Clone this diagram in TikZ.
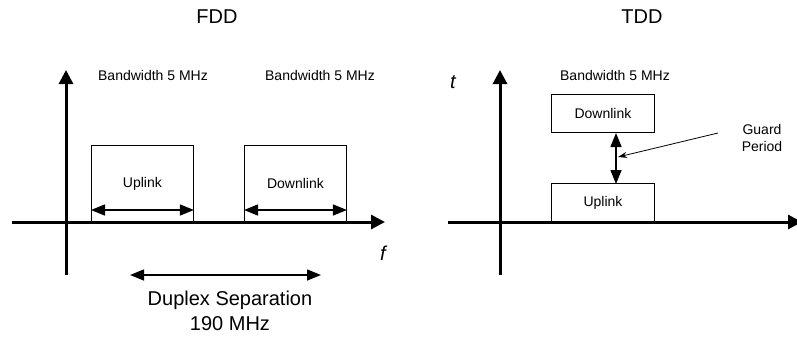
\documentclass[tikz,border=0pt]{standalone}
\usepackage{fontspec}
\setmainfont{Liberation Sans}
\usetikzlibrary{arrows.meta}
\begin{document}
\begin{tikzpicture}[x=1pt,y=-1pt,
 axis/.style={line width=3pt,-{Triangle[length=14pt,width=14pt]}},
 band/.style={draw,line width=0.9pt,minimum width=102pt,inner sep=0pt,font=\fontsize{14}{16}\selectfont,anchor=south west},
 small/.style={font=\fontsize{14}{17}\selectfont,inner sep=0pt,align=center},
 big/.style={font=\fontsize{20}{25}\selectfont,inner sep=0pt,align=center},
 dim/.style={line width=1.5pt,{Triangle[length=14pt,width=11pt]}-{Triangle[length=14pt,width=11pt]}}]
\useasboundingbox (0,0) rectangle (797,338);
% ---------- FDD ----------
\node[big] (fdd) at (217,17) {FDD};
\coordinate (fy0) at (66,275);
\coordinate (fy1) at (66,70);
\coordinate (fx0) at (12,222);
\coordinate (fx1) at (385,222);
\draw[axis] (fy0) -- (fy1);
\draw[axis] (fx0) -- (fx1);
\node[band,minimum height=76pt] (ul) at (91,222) {Uplink};
\node[band,minimum height=76pt] (dl) at (244,222) {Downlink};
\draw[dim] ([yshift=12pt]ul.south west) -- ([yshift=12pt]ul.south east);
\draw[dim] ([yshift=12pt]dl.south west) -- ([yshift=12pt]dl.south east);
\node[small] (bw1) at (153,75) {Bandwidth 5 MHz};
\node[small] (bw2) at (320,75) {Bandwidth 5 MHz};
\node[big,font=\fontsize{20}{25}\selectfont\itshape] (f) at (383,253) {f};
\coordinate (ds0) at (130,275);
\coordinate (ds1) at (321,275);
\draw[dim] (ds0) -- (ds1);
\node[big] (dsep) at (230,311) {Duplex Separation\\190 MHz};
% ---------- TDD ----------
\node[big] (tdd) at (642,17) {TDD};
\coordinate (ty0) at (500,275);
\coordinate (ty1) at (500,70);
\coordinate (tx0) at (448,222);
\coordinate (tx1) at (802,222);
\draw[axis] (ty0) -- (ty1);
\draw[axis] (tx0) -- (tx1);
\node[big,font=\fontsize{20}{25}\selectfont\itshape] (t) at (453,82) {t};
\node[band,minimum width=103pt,minimum height=38pt] (tdl) at (551,133) {Downlink};
\node[band,minimum width=103pt,minimum height=38pt] (tul) at (551,222) {Uplink};
\coordinate (g0) at (616,133);
\coordinate (g1) at (616,184);
\draw[dim] (g0) -- (g1);
\node[small] (bw3) at (615,75) {Bandwidth 5 MHz};
\node[small] (gp) at (762,138) {Guard\\Period};
\coordinate (ga) at (718,133);
\coordinate (gb) at (618,157);
\draw[line width=0.8pt,-{Stealth[length=9pt,width=6pt]}] (ga) -- (gb);
\end{tikzpicture}
\end{document}
